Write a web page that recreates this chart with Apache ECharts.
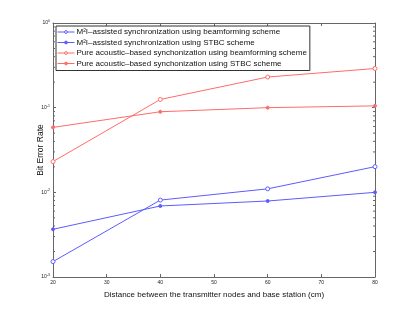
<!DOCTYPE html>
<html><head><meta charset="utf-8">
<script src="https://cdn.jsdelivr.net/npm/echarts@6/dist/echarts.min.js"></script>
<style>html,body{margin:0;padding:0;background:#fff}#c{width:415px;height:311px}</style>
</head><body><div id="c"></div>
<script>
var distances = [20, 40, 60, 80];
var xTicks = [20, 30, 40, 50, 60, 70, 80];
var seriesNames = [
  'M\u00B2I\u2013assisted synchronization using beamforming scheme',
  'M\u00B2I\u2013assisted synchronization using STBC scheme',
  'Pure acoustic\u2013based synchonization using beamforming scheme',
  'Pure acoustic\u2013based synchonization using STBC scheme'
];
var m2iBeam = [0.00152, 0.0081, 0.0110, 0.0201];
var m2iStbc = [0.00366, 0.0069, 0.0079, 0.0100];
var pureBeam = [0.0231, 0.125, 0.230, 0.290];
var pureStbc = [0.0585, 0.0895, 0.100, 0.105];
var yMajor = [0.001, 0.01, 0.1, 1];
var yMinor = [];
[0.001, 0.01, 0.1].forEach(function (d) { for (var k = 2; k <= 9; k++) yMinor.push(+(d * k).toPrecision(3)); });

var blue = '#5c5cff', red = '#ff6b6b', axisCol = '#666';
var seriesColors = [blue, blue, red, red];
var seriesOpen = [true, false, true, false];
var chart = echarts.init(document.getElementById('c'));
function mk(name, data, color, open) {
  return {
    name: name, type: 'line', data: distances.map(function (x, i) { return [x, data[i]]; }),
    symbol: 'circle', symbolSize: open ? 4 : 3, showSymbol: true,
    itemStyle: { color: open ? '#fff' : color, borderColor: color, borderWidth: 1 },
    lineStyle: { color: color, width: 1 }, z: 3, animation: false
  };
}
function yFmt(v) {
  var e = Math.round(Math.log10(v));
  return '10{s|' + e + '}';
}
var baseX = { type: 'value', min: 20, max: 80, interval: 10,
  axisLine: { lineStyle: { color: axisCol, width: 1 } },
  axisTick: { inside: true, length: 3, lineStyle: { color: axisCol } },
  splitLine: { show: false } };
var baseY = { type: 'log', logBase: 10, min: 0.001, max: 1,
  axisLine: { lineStyle: { color: axisCol, width: 1 } },
  axisTick: { inside: true, length: 3, lineStyle: { color: axisCol } },
  splitLine: { show: false } };
chart.setOption({
  animation: false,
  textStyle: { fontFamily: 'Liberation Sans, Arial, sans-serif' },
  grid: { left: 53, right: 40, top: 23, bottom: 34, containLabel: false },
  legend: {
    data: seriesNames.map(function (n, i) {
      return { name: n, itemStyle: { color: seriesOpen[i] ? '#fff' : seriesColors[i], borderColor: seriesColors[i], borderWidth: 1 } };
    }),
    orient: 'vertical', left: 56, top: 26,
    itemWidth: 17, itemHeight: 3.5, itemGap: 0.5,
    lineStyle: { width: 1 },
    backgroundColor: '#fff', borderColor: '#333', borderWidth: 1, padding: [1, 3, 2, 1],
    textStyle: { fontSize: 8, color: '#111', padding: [0, 0, 0, -3], lineHeight: 10 }
  },
  xAxis: [
    Object.assign({}, baseX, { position: 'bottom',
      axisLabel: { fontSize: 5, color: '#222', margin: 3 },
      name: 'Distance between the transmitter nodes and base station (cm)', nameLocation: 'middle', nameGap: 14,
      nameMoveOverlap: false,
      nameTextStyle: { fontSize: 8, color: '#111' } }),
    Object.assign({}, baseX, { position: 'top', axisLabel: { show: false } })
  ],
  yAxis: [
    Object.assign({}, baseY, { position: 'left',
      axisLabel: { formatter: yFmt, fontSize: 5, color: '#222', margin: 3,
        rich: { s: { fontSize: 3.5, verticalAlign: 'top', padding: [0, 0, 4, 0] } } },
      name: 'Bit Error Rate', nameLocation: 'middle', nameGap: 8, nameMoveOverlap: false,
      nameTextStyle: { fontSize: 8.5, color: '#111' } }),
    Object.assign({}, baseY, { position: 'right', axisLabel: { show: false } })
  ],
  series: [
    mk(seriesNames[0], m2iBeam, blue, true),
    mk(seriesNames[1], m2iStbc, blue, false),
    mk(seriesNames[2], pureBeam, red, true),
    mk(seriesNames[3], pureStbc, red, false),
    { type: 'custom', silent: true, animation: false, z: 1,
      data: yMinor.map(function (v) { return [20, v]; }),
      renderItem: function (params, api) {
        var v = api.value(1);
        var l = api.coord([20, v]), r = api.coord([80, v]);
        return { type: 'group', children: [
          { type: 'line', shape: { x1: l[0], y1: l[1], x2: l[0] + 2, y2: l[1] }, style: { stroke: axisCol, lineWidth: 1 } },
          { type: 'line', shape: { x1: r[0], y1: r[1], x2: r[0] - 2, y2: r[1] }, style: { stroke: axisCol, lineWidth: 1 } }
        ] };
      }
    }
  ]
});
</script></body></html>
